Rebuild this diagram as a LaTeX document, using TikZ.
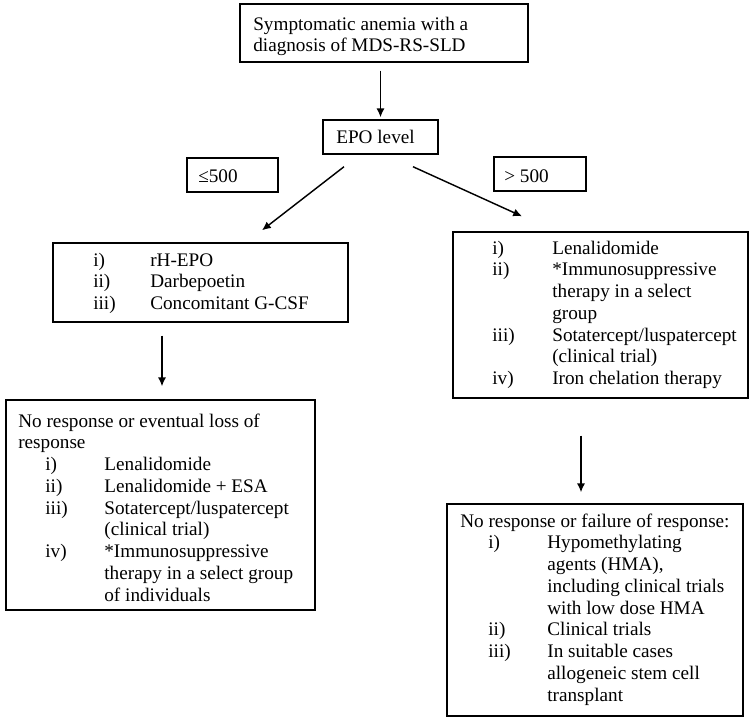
\documentclass[tikz,border=0pt]{standalone}
\usepackage{fontspec}
\setmainfont{Liberation Serif}
\usepackage{array}
\usetikzlibrary{arrows.meta,fit,calc}
\tikzset{
  box/.style={draw=black, line width=0.9pt, inner sep=0pt},
  txt/.style={anchor=base west, inner sep=0pt, font=\fontsize{12pt}{13.6pt}\selectfont},
  arr/.style={draw=black, line width=0.9pt, -{Latex[length=5.5pt,width=5pt]}}
}
\begin{document}
\begin{tikzpicture}[x=0.625pt,y=-0.625pt]
\useasboundingbox (0,0) rectangle (754,720);
% boxes
\node[box, fit={(240,4) (528,62)}] (top) {};
\node[box, fit={(323,120) (438,154)}] (epo) {};
\node[box, fit={(187,158) (278,192)}] (le) {};
\node[box, fit={(494,157) (586,191)}] (gt) {};
\node[box, fit={(53,243) (348,322)}] (l1) {};
\node[box, fit={(453,232) (748,398)}] (r1) {};
\node[box, fit={(6,400) (315,610)}] (l2) {};
\node[box, fit={(447,504) (743,716)}] (r2) {};
% texts
\node[txt] (toptxt) at (253,30) {\begin{tabular}[t]{@{}l@{}}Symptomatic anemia with a\\ diagnosis of MDS-RS-SLD\end{tabular}};
\node[txt] (epotxt) at (336,143) {EPO level};
\node[txt] (letxt) at (198,182) {≤500};
\node[txt] (gttxt) at (504,182) {> 500};
\node[txt] (l1txt) at (93,266) {\begin{tabular}[t]{@{}p{35.6pt}@{}l@{}}
i) & rH-EPO\\
ii) & Darbepoetin\\
iii) & Concomitant G-CSF
\end{tabular}};
\node[txt] (r1txt) at (492,254) {\begin{tabular}[t]{@{}p{37.5pt}@{}l@{}}
i) & Lenalidomide\\
ii) & *Immunosuppressive\\
 & therapy in a select\\
 & group\\
iii) & Sotatercept/luspatercept\\
 & (clinical trial)\\
iv) & Iron chelation therapy
\end{tabular}};
\node[txt] (l2txt) at (18,427) {\begin{tabular}[t]{@{\hspace{16.9pt}}p{36.9pt}@{}l@{}}
\multicolumn{2}{@{}l@{}}{No response or eventual loss of}\\
\multicolumn{2}{@{}l@{}}{response}\\
i) & Lenalidomide\\
ii) & Lenalidomide + ESA\\
iii) & Sotatercept/luspatercept\\
 & (clinical trial)\\
iv) & *Immunosuppressive\\
 & therapy in a select group\\
 & of individuals
\end{tabular}};
\node[txt] (r2txt) at (460,527) {\begin{tabular}[t]{@{\hspace{17.5pt}}p{36.9pt}@{}l@{}}
\multicolumn{2}{@{}l@{}}{No response or failure of response:}\\
i) & Hypomethylating\\
 & agents (HMA),\\
 & including clinical trials\\
 & with low dose HMA\\
ii) & Clinical trials\\
iii) & In suitable cases\\
 & allogeneic stem cell\\
 & transplant
\end{tabular}};
% connectors
\draw[arr, shorten <=5pt, shorten >=1.25pt] (top.south -| epo.north) -- (epo.north);
\draw[arr] ($(epo.south)+(-36.5,12)$) -- ($(l1.north)+(61.5,-12)$);
\draw[arr] ($(epo.south)+(32.5,12)$) -- ($(r1.north)+(-78.5,-15)$);
\draw[arr] ($(l1.south)+(-38.5,13)$) -- ($(l2.north)+(1.5,-13)$);
\draw[arr] ($(r1.south)+(-19.5,37)$) -- ($(r2.north)+(-14,-11)$);
\end{tikzpicture}
\end{document}
